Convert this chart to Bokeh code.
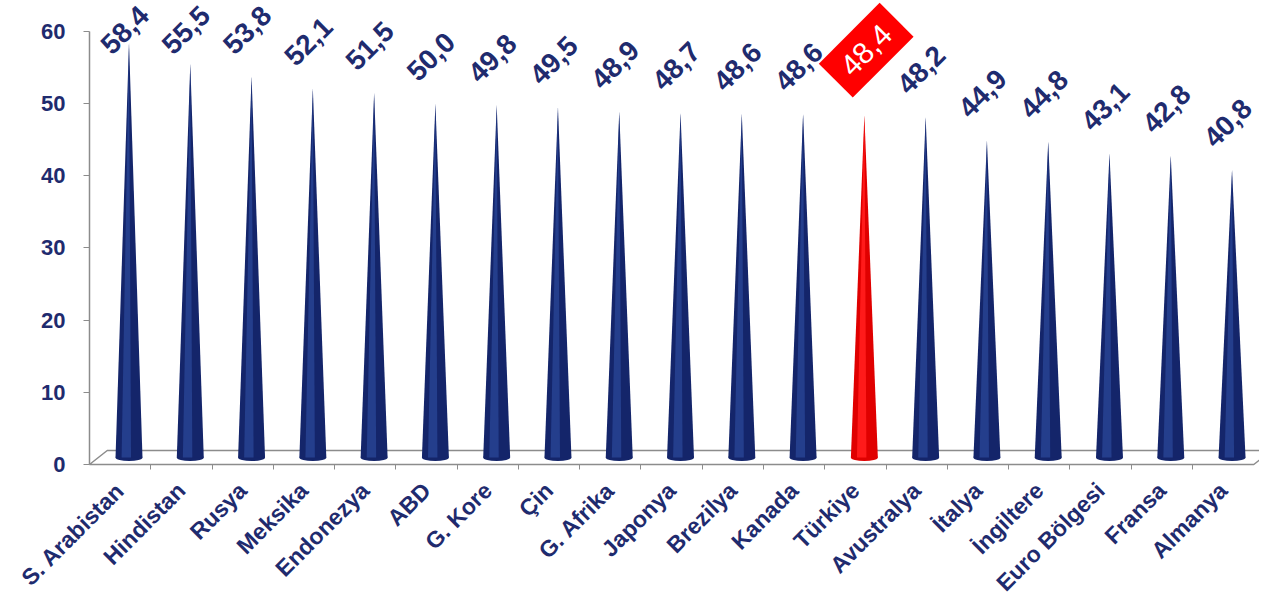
import math
from bokeh.plotting import figure
from bokeh.models import Range1d, FixedTicker
from bokeh.embed import file_html
from bokeh.resources import INLINE
from bokeh.core.properties import value

# ---- data ----
countries = ["S. Arabistan", "Hindistan", "Rusya", "Meksika", "Endonezya", "ABD",
             "G. Kore", "Çin", "G. Afrika", "Japonya", "Brezilya", "Kanada",
             "Türkiye", "Avustralya", "İtalya", "İngiltere", "Euro Bölgesi",
             "Fransa", "Almanya"]
values = [58.4, 55.5, 53.8, 52.1, 51.5, 50.0, 49.8, 49.5, 48.9, 48.7, 48.6, 48.6,
          48.4, 48.2, 44.9, 44.8, 43.1, 42.8, 40.8]
highlight = "Türkiye"
y_ticks = [0, 10, 20, 30, 40, 50, 60]

# ---- style constants ----
NAVY_TEXT = "#1f2b6e"
CONE_DARK = "#14256a"
CONE_LIGHT = "#243e8c"
RED_DARK = "#e00000"
RED_LIGHT = "#ff1a1a"
GRID_GREY = "#8c8c8c"
FONT = "Liberation Sans"
DEPTH_X = 0.29      # 3-D depth shift (x units)
DEPTH_Y = 1.94      # 3-D depth shift (y units)
HALF_W = 0.22       # cone base half width (x units)
LABEL_OFF = 6.5     # value label offset above apex
LABEL_MAX = 60.2    # labels pushed down below this
HL_OFF = 9.0

n = len(countries)
idx = list(range(n))
x0, x1 = -0.5, n - 0.5

# the frame fills the whole figure; both axes are pinned at data locations
p = figure(width=1259, height=595,
           x_range=Range1d(-1.952, 18.593), y_range=Range1d(-18.15, 64.29),
           output_backend="svg", toolbar_location=None,
           min_border_left=0, min_border_right=0, min_border_top=0,
           min_border_bottom=0)
p.background_fill_color = "white"
p.border_fill_color = "white"
p.outline_line_color = None
p.xgrid.visible = False
p.ygrid.visible = False

# floor (3-D base)
p.patch([x0, x1, x1 + DEPTH_X, x0 + DEPTH_X], [0, 0, DEPTH_Y, DEPTH_Y],
        fill_color="white", line_color=GRID_GREY, line_width=1.5)

# cones
base_y = DEPTH_Y / 2
xs_full, ys_full, xs_hi, ys_hi, fills, hifills, cx = [], [], [], [], [], [], []
for i, (c, v) in enumerate(zip(countries, values)):
    xc = i + DEPTH_X / 2
    cx.append(xc)
    xs_full.append([xc - HALF_W, xc, xc + HALF_W])
    ys_full.append([base_y, v, base_y])
    xs_hi.append([xc - 0.55 * HALF_W, xc, xc + 0.15 * HALF_W])
    ys_hi.append([base_y, v, base_y])
    is_hl = (c == highlight)
    fills.append(RED_DARK if is_hl else CONE_DARK)
    hifills.append(RED_LIGHT if is_hl else CONE_LIGHT)

p.ellipse(x=cx, y=[base_y] * n, width=2 * HALF_W, height=1.0,
          fill_color=fills, line_color=None)
p.patches(xs_full, ys_full, fill_color=fills, line_color=None)
p.patches(xs_hi, ys_hi, fill_color=hifills, line_color=None)

# value labels
lab_x, lab_y, lab_t = [], [], []
hl_x, hl_y, hl_t = [], [], []
for i, (c, v) in enumerate(zip(countries, values)):
    t = f"{v:.1f}".replace(".", ",")
    if c == highlight:
        hl_x.append(cx[i] + 0.03)
        hl_y.append(v + HL_OFF)
        hl_t.append(t)
    else:
        lab_x.append(cx[i] - 0.07)
        lab_y.append(min(v + LABEL_OFF, LABEL_MAX))
        lab_t.append(t)

p.text(x=lab_x, y=lab_y, text=lab_t, angle=math.pi / 4,
       text_align="center", text_baseline="middle",
       text_font=value(FONT), text_font_style="bold",
       text_font_size="28px", text_color=NAVY_TEXT)
p.rect(x=hl_x, y=hl_y, width=86, height=48, angle=math.pi / 4,
       width_units="screen", height_units="screen",
       fill_color="#ff0000", line_color=None)
p.text(x=hl_x, y=hl_y, text=hl_t, angle=math.pi / 4,
       text_align="center", text_baseline="middle",
       text_font=value(FONT), text_font_size="30px", text_color="white")

# y axis pinned at the floor's left edge
ya = p.yaxis[0]
ya.fixed_location = x0
ya.ticker = FixedTicker(ticks=y_ticks)
ya.bounds = (0, 60)
ya.axis_line_color = GRID_GREY
ya.axis_line_width = 1.5
ya.major_tick_line_color = GRID_GREY
ya.major_tick_out = 6
ya.major_tick_in = 0
ya.minor_tick_line_color = None
ya.major_label_standoff = 18
ya.major_label_text_font = FONT
ya.major_label_text_font_style = "bold"
ya.major_label_text_font_size = "22px"
ya.major_label_text_color = NAVY_TEXT

# x axis pinned at the floor's front edge
xa = p.xaxis[0]
xa.fixed_location = 0
xa.bounds = (x0, x1)
xa.ticker = FixedTicker(ticks=idx, minor_ticks=[i + 0.5 for i in range(n - 1)])
xa.major_label_overrides = {i: c for i, c in enumerate(countries)}
xa.major_label_orientation = math.pi / 4
xa.axis_line_color = None
xa.major_tick_line_color = None
xa.major_tick_in = 0
xa.major_tick_out = 0
xa.minor_tick_line_color = GRID_GREY
xa.minor_tick_in = 0
xa.minor_tick_out = 5
xa.major_label_standoff = 17
xa.major_label_text_font = FONT
xa.major_label_text_font_style = "bold"
xa.major_label_text_font_size = "23px"
xa.major_label_text_color = NAVY_TEXT

open("out.html", "w").write(file_html(p, INLINE))
